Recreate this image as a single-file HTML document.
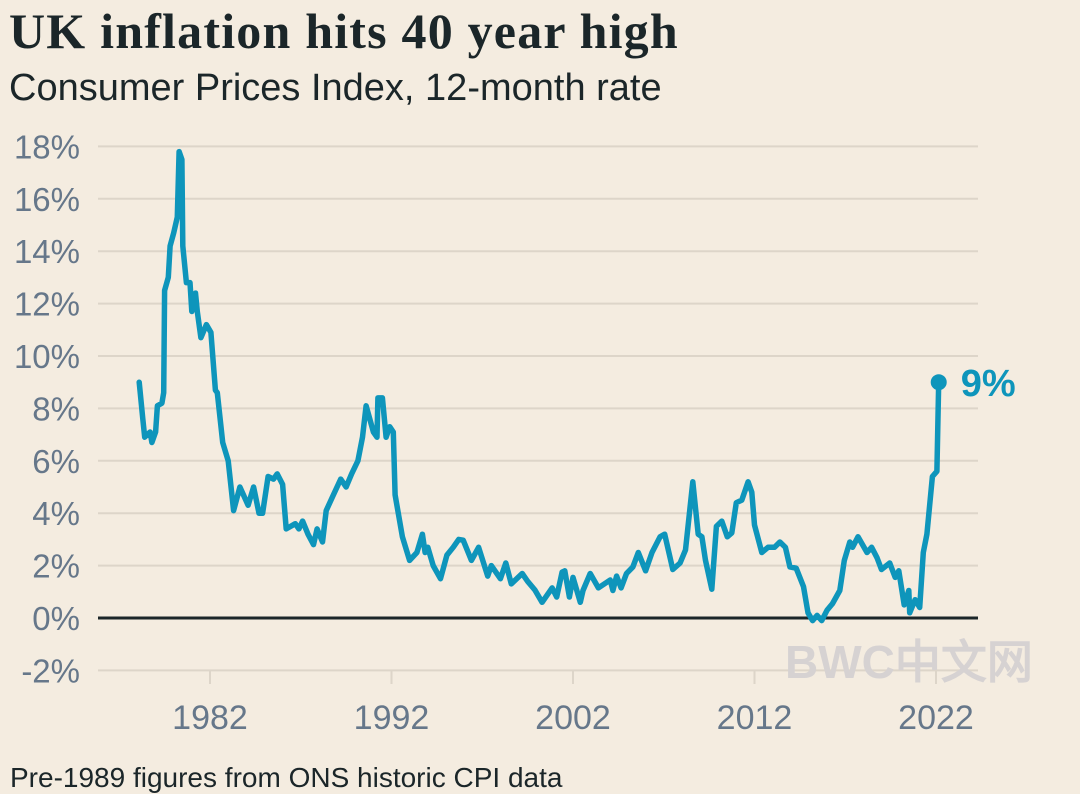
<!DOCTYPE html>
<html><head><meta charset="utf-8">
<style>
html,body{margin:0;padding:0;background:#f4ece0;}
body{width:1080px;height:792px;overflow:hidden;position:relative;font-family:"Liberation Sans",sans-serif;}
#title{position:absolute;left:9px;top:2px;font-family:"Liberation Serif",serif;font-weight:bold;font-size:50px;letter-spacing:1.2px;color:#1b2629;margin:0;white-space:nowrap;}
#sub{position:absolute;left:9px;top:67px;font-size:38px;color:#1b2629;white-space:nowrap;}
#foot{position:absolute;left:10px;top:762px;font-size:28px;color:#1b2629;white-space:nowrap;}
svg{position:absolute;left:0;top:0;}
</style></head><body>
<div id="title">UK inflation hits 40 year high</div>
<div id="sub">Consumer Prices Index, 12-month rate</div>
<div id="foot">Pre-1989 figures from ONS historic CPI data</div>
<svg id="chart" width="1080" height="792"></svg>
<script>
const yTicks=[-2,0,2,4,6,8,10,12,14,16,18];
const xTicks=[1982,1992,2002,2012,2022];
const years=[1978.1,1978.3,1978.4,1978.7,1978.8,1979.0,1979.1,1979.35,1979.45,1979.5,1979.7,1979.8,1980.0,1980.2,1980.3,1980.45,1980.5,1980.7,1980.9,1981.0,1981.2,1981.3,1981.5,1981.8,1982.05,1982.3,1982.4,1982.7,1983.0,1983.3,1983.65,1984.1,1984.4,1984.7,1984.9,1985.2,1985.5,1985.7,1986.0,1986.2,1986.7,1986.9,1987.1,1987.4,1987.7,1987.9,1988.2,1988.4,1988.8,1989.2,1989.5,1989.8,1990.15,1990.4,1990.6,1991.0,1991.2,1991.25,1991.5,1991.7,1991.9,1992.1,1992.2,1992.6,1993.0,1993.4,1993.7,1993.85,1994.0,1994.3,1994.7,1995.05,1995.4,1995.7,1995.95,1996.4,1996.8,1997.3,1997.5,1998.0,1998.3,1998.6,1999.2,1999.5,1999.9,2000.3,2000.85,2001.1,2001.4,2001.55,2001.8,2002.0,2002.4,2002.55,2002.95,2003.4,2004.05,2004.2,2004.4,2004.65,2004.95,2005.3,2005.6,2006.0,2006.35,2006.8,2007.05,2007.5,2007.9,2008.2,2008.6,2008.9,2009.1,2009.3,2009.65,2009.9,2010.2,2010.5,2010.75,2011.0,2011.3,2011.65,2011.85,2012.0,2012.4,2012.75,2013.1,2013.4,2013.7,2013.95,2014.3,2014.7,2014.95,2015.2,2015.45,2015.7,2016.0,2016.3,2016.7,2016.95,2017.25,2017.4,2017.7,2018.2,2018.45,2018.75,2019.0,2019.45,2019.75,2019.95,2020.25,2020.5,2020.55,2020.85,2021.1,2021.3,2021.5,2021.8,2022.05,2022.15];
const values=[9.0,7.6,6.9,7.1,6.7,7.1,8.1,8.2,8.6,12.5,13.0,14.2,14.7,15.3,17.8,17.5,14.2,12.8,12.8,11.7,12.4,11.7,10.7,11.2,10.9,8.7,8.6,6.7,6.0,4.1,5.0,4.3,5.0,4.0,4.0,5.4,5.3,5.5,5.1,3.4,3.6,3.4,3.7,3.2,2.8,3.4,2.9,4.1,4.7,5.3,5.0,5.5,6.0,6.9,8.1,7.1,6.9,8.4,8.4,6.9,7.3,7.1,4.7,3.1,2.2,2.5,3.2,2.5,2.7,2.0,1.5,2.4,2.7,3.0,2.97,2.2,2.7,1.6,2.0,1.5,2.1,1.3,1.7,1.4,1.07,0.6,1.15,0.8,1.75,1.8,0.8,1.55,0.6,1.05,1.7,1.15,1.45,1.05,1.6,1.15,1.7,1.95,2.5,1.8,2.5,3.1,3.2,1.85,2.1,2.6,5.2,3.2,3.1,2.2,1.1,3.5,3.7,3.1,3.25,4.4,4.5,5.2,4.8,3.55,2.5,2.7,2.7,2.9,2.7,1.95,1.9,1.2,0.2,-0.1,0.1,-0.1,0.3,0.55,1.05,2.2,2.9,2.7,3.1,2.5,2.7,2.3,1.85,2.1,1.55,1.8,0.5,1.05,0.2,0.7,0.4,2.5,3.2,5.4,5.6,9.0];
const NS='http://www.w3.org/2000/svg';
const svg=document.getElementById('chart');
const yS=v=>618-v*26.2;
const xS=y=>210+(y-1982)*18.15;
function mk(t,a){const e=document.createElementNS(NS,t);for(const k in a)e.setAttribute(k,a[k]);svg.appendChild(e);return e;}
yTicks.forEach(v=>{
  const g=mk('line',{x1:98,x2:978,y1:yS(v),y2:yS(v),stroke:v===0?'#1b2629':'#ddd5c9','stroke-width':v===0?3:2});
  
  
  const t=mk('text',{x:80,y:yS(v)+12,'text-anchor':'end','font-size':33,fill:'#66778a','font-family':'Liberation Sans, sans-serif'});
  t.textContent=v+'%';
  
  
});
xTicks.forEach(y=>{
  const l=mk('line',{x1:xS(y),x2:xS(y),y1:670,y2:684,stroke:'#ddd5c9','stroke-width':2});
  
  
  const t=mk('text',{x:xS(y),y:729,'text-anchor':'middle','font-size':34,fill:'#66778a','font-family':'Liberation Sans, sans-serif'});
  t.textContent=y;
  
  
});
const wm=mk('text',{x:785,y:678,'font-size':46,'font-weight':'bold',fill:'#d6d2d2','font-family':'Liberation Sans, WenQuanYi Zen Hei, sans-serif'});
wm.textContent='BWC中文网';


const d=years.map((y,i)=>(i?'L':'M')+xS(y).toFixed(1)+' '+yS(values[i]).toFixed(1)).join(' ');
const p=mk('path',{d:d,fill:'none',stroke:'#0e95bb','stroke-width':5.5,'stroke-linejoin':'round','stroke-linecap':'round'});


const n=years.length-1;
const c=mk('circle',{cx:xS(years[n]),cy:yS(values[n]),r:8,fill:'#0e95bb'});


const lt=mk('text',{x:xS(years[n])+22,y:yS(values[n])+14,'font-size':38,'font-weight':'bold',fill:'#0e95bb','font-family':'Liberation Sans, sans-serif'});
lt.textContent=values[n]+'%';


</script>
</body></html>
